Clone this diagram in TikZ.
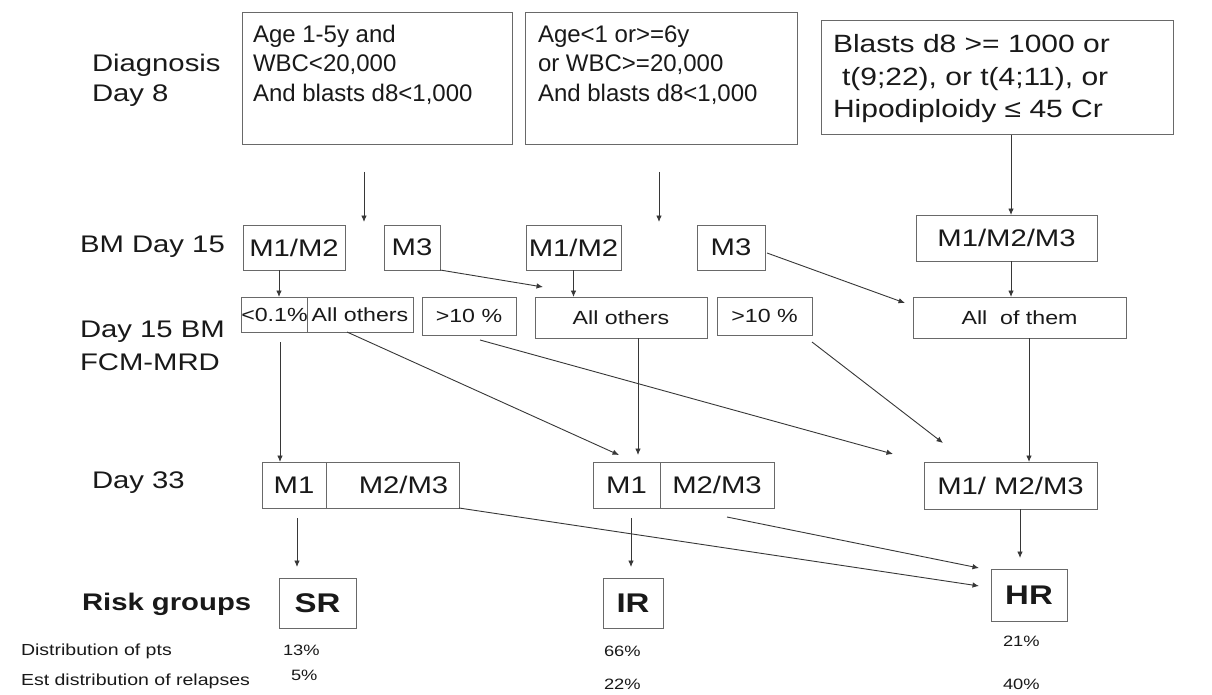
\documentclass[tikz,border=0pt]{standalone}
\usepackage{fontspec}
\setmainfont[FakeStretch=1.22]{Liberation Sans}
\newfontfamily\plainsans{Liberation Sans}
\usetikzlibrary{arrows.meta}
\definecolor{boxgray}{RGB}{105,105,105}
\definecolor{linegray}{RGB}{55,55,55}
\definecolor{txt}{RGB}{25,25,25}
\newcommand\fL{\fontsize{24}{29}\selectfont}
\newcommand\fB{\plainsans\fontsize{24}{29}\selectfont}
\newcommand\fC{\addfontfeatures{FakeStretch=1.2}\fontsize{25}{32}\selectfont}
\newcommand\fS{\fontsize{19}{22}\selectfont}
\newcommand\fR{\bfseries\fontsize{27}{32}\selectfont}
\newcommand\fD{\fontsize{16}{19}\selectfont}
\newcommand\fP{\fontsize{15}{18}\selectfont}
\begin{document}
\begin{tikzpicture}[x=1pt,y=-1pt,
  box/.style={draw=boxgray, line width=1pt, rectangle, inner sep=0pt, outer sep=0pt, text=txt, font=\fL},
  sbox/.style={box, font=\fS},
  rbox/.style={box, font=\fR},
  arr/.style={draw=linegray, line width=0.9pt, -{Latex[length=6.5pt,width=5.5pt]}},
  lab/.style={anchor=base west, inner sep=0pt, outer sep=0pt, text=txt, font=\fL},
  ]
\useasboundingbox[fill=white] (0,0) rectangle (1212,695);

% ---- left labels
\node[lab] (lDiag) at (92,72) {Diagnosis};
\node[lab] (lDay8) at (92,102) {Day 8};
\node[lab] (lBM15) at (80,252) {BM Day 15};
\node[lab] (lD15) at (80,337) {Day 15 BM};
\node[lab] (lFCM) at (80,370) {FCM-MRD};
\node[lab] (lD33) at (92,488) {Day 33};
\node[lab, font=\bfseries\fL] (lRisk) at (82,610) {Risk groups};
\node[lab, font=\fD] (lDist) at (21,655) {Distribution of pts};
\node[lab, font=\fD] (lEst) at (21,685) {Est distribution of relapses};

% ---- top boxes
\node[box, minimum width=270, minimum height=132] (b1) at (377,79) {};
\node[lab, font=\fB] (b1a) at (253,43) {Age 1-5y and};
\node[lab, font=\fB] (b1b) at (253,72) {WBC<20,000};
\node[lab, font=\fB] (b1c) at (253,102) {And blasts d8<1,000};

\node[box, minimum width=272, minimum height=132] (b2) at (661,79) {};
\node[lab, font=\fB] (b2a) at (538,43) {Age<1 or>=6y};
\node[lab, font=\fB] (b2b) at (538,72) {or WBC>=20,000};
\node[lab, font=\fB] (b2c) at (538,102) {And blasts d8<1,000};

\node[box, minimum width=352, minimum height=114] (b3) at (997,78) {};
\node[lab, font=\fC] (b3a) at (833,53) {Blasts d8 >= 1000 or};
\node[lab, font=\fC] (b3b) at (842,86) {t(9;22), or t(4;11), or};
\node[lab, font=\fC] (b3c) at (833,118) {Hipodiploidy ≤ 45 Cr};

% ---- BM day 15 row
\node[box, minimum width=102, minimum height=45] (m12a) at (294,247.5) {M1/M2};
\node[box, minimum width=56, minimum height=45] (m3a) at (412,247.5) {M3};
\node[box, minimum width=95, minimum height=45] (m12b) at (573.5,247.5) {M1/M2};
\node[box, minimum width=68, minimum height=45] (m3b) at (731,247.5) {M3};
\node[box, minimum width=181, minimum height=46] (m123) at (1006.5,238) {M1/M2/M3};

% ---- FCM-MRD row
\node[sbox, minimum width=65, minimum height=35] (lt) at (274.5,314.5) {<0.1\%};
\node[sbox, minimum width=106, minimum height=35] (ao1) at (360,314.5) {All others};
\node[sbox, minimum width=94, minimum height=38] (gt1) at (469,316) {>10 \%};
\node[sbox, minimum width=172, minimum height=41] (ao2) at (621,317.5) {All others};
\node[sbox, minimum width=95, minimum height=38] (gt2) at (764.5,316) {>10 \%};
\node[sbox, minimum width=213, minimum height=41] (aot) at (1019.5,317.5) {All\ \ of them};

% ---- Day 33 row
\node[box, minimum width=64, minimum height=46] (d1m1) at (294,485) {M1};
\node[box, minimum width=133, minimum height=46] (d1m23) at (392.5,485) {\hspace{22pt}M2/M3};
\node[box, minimum width=67, minimum height=46] (d2m1) at (626.5,485) {M1};
\node[box, minimum width=114, minimum height=46] (d2m23) at (717,485) {M2/M3};
\node[box, minimum width=173, minimum height=47] (d3) at (1010.5,485.5) {M1/ M2/M3\hspace{12pt}};

% ---- risk groups
\node[rbox, minimum width=77, minimum height=50] (SR) at (317.5,603) {SR};
\node[rbox, minimum width=60, minimum height=50] (IR) at (633,603) {IR};
\node[rbox, minimum width=76, minimum height=52] (HR) at (1029,595) {HR};

% ---- percentages
\node[lab, font=\fP] (p13) at (283,655) {13\%};
\node[lab, font=\fP] (p5) at (291,680) {5\%};
\node[lab, font=\fP] (p66) at (604,656) {66\%};
\node[lab, font=\fP] (p22) at (604,689) {22\%};
\node[lab, font=\fP] (p21) at (1003,646) {21\%};
\node[lab, font=\fP] (p40) at (1003,689) {40\%};

% ---- connectors
\coordinate (a1s) at (364,172); \coordinate (a1e) at (364,222);
\coordinate (a2s) at (659,172); \coordinate (a2e) at (659,222);
\draw[arr] (a1s) -- (a1e);
\draw[arr] (a2s) -- (a2e);
\coordinate (x3) at (1011,0);
\draw[arr] (b3.south -| x3) -- (m123.north -| x3);

\coordinate (x4) at (279,0);
\draw[arr] (m12a.south -| x4) -- (lt.north -| x4);
\coordinate (a5e) at (543,287);
\draw[arr] (m3a.south east) -- (a5e);
\draw[arr] (m12b.south) -- (ao2.north -| m12b.south);
\coordinate (a7s) at (767,253); \coordinate (a7e) at (905,303);
\draw[arr] (a7s) -- (a7e);
\draw[arr] (m123.south -| x3) -- (aot.north -| x3);

\coordinate (a9s) at (280,342);
\draw[arr] (a9s) -- (d1m1.north -| a9s);
\coordinate (x10) at (347,0); \coordinate (a10e) at (619,455);
\draw[arr] (ao1.south -| x10) -- (a10e);
\coordinate (a11s) at (638,338); \coordinate (a11e) at (638,455);
\draw[arr] (a11s) -- (a11e);
\coordinate (a12s) at (480,340); \coordinate (a12e) at (893,454);
\draw[arr] (a12s) -- (a12e);
\coordinate (a13s) at (812,342); \coordinate (a13e) at (943,443);
\draw[arr] (a13s) -- (a13e);
\coordinate (x14) at (1029,0);
\draw[arr] (aot.south -| x14) -- (d3.north -| x14);

\coordinate (a15s) at (297,518); \coordinate (a15e) at (297,567);
\draw[arr] (a15s) -- (a15e);
\coordinate (a16s) at (631,518); \coordinate (a16e) at (631,567);
\draw[arr] (a16s) -- (a16e);
\coordinate (x17) at (1020,0); \coordinate (a17e) at (1020,558);
\draw[arr] (d3.south -| x17) -- (a17e);
\coordinate (a18e) at (979,586);
\draw[arr] (d1m23.south east) -- (a18e);
\coordinate (a19s) at (727,517); \coordinate (a19e) at (979,568);
\draw[arr] (a19s) -- (a19e);
\end{tikzpicture}
\end{document}
